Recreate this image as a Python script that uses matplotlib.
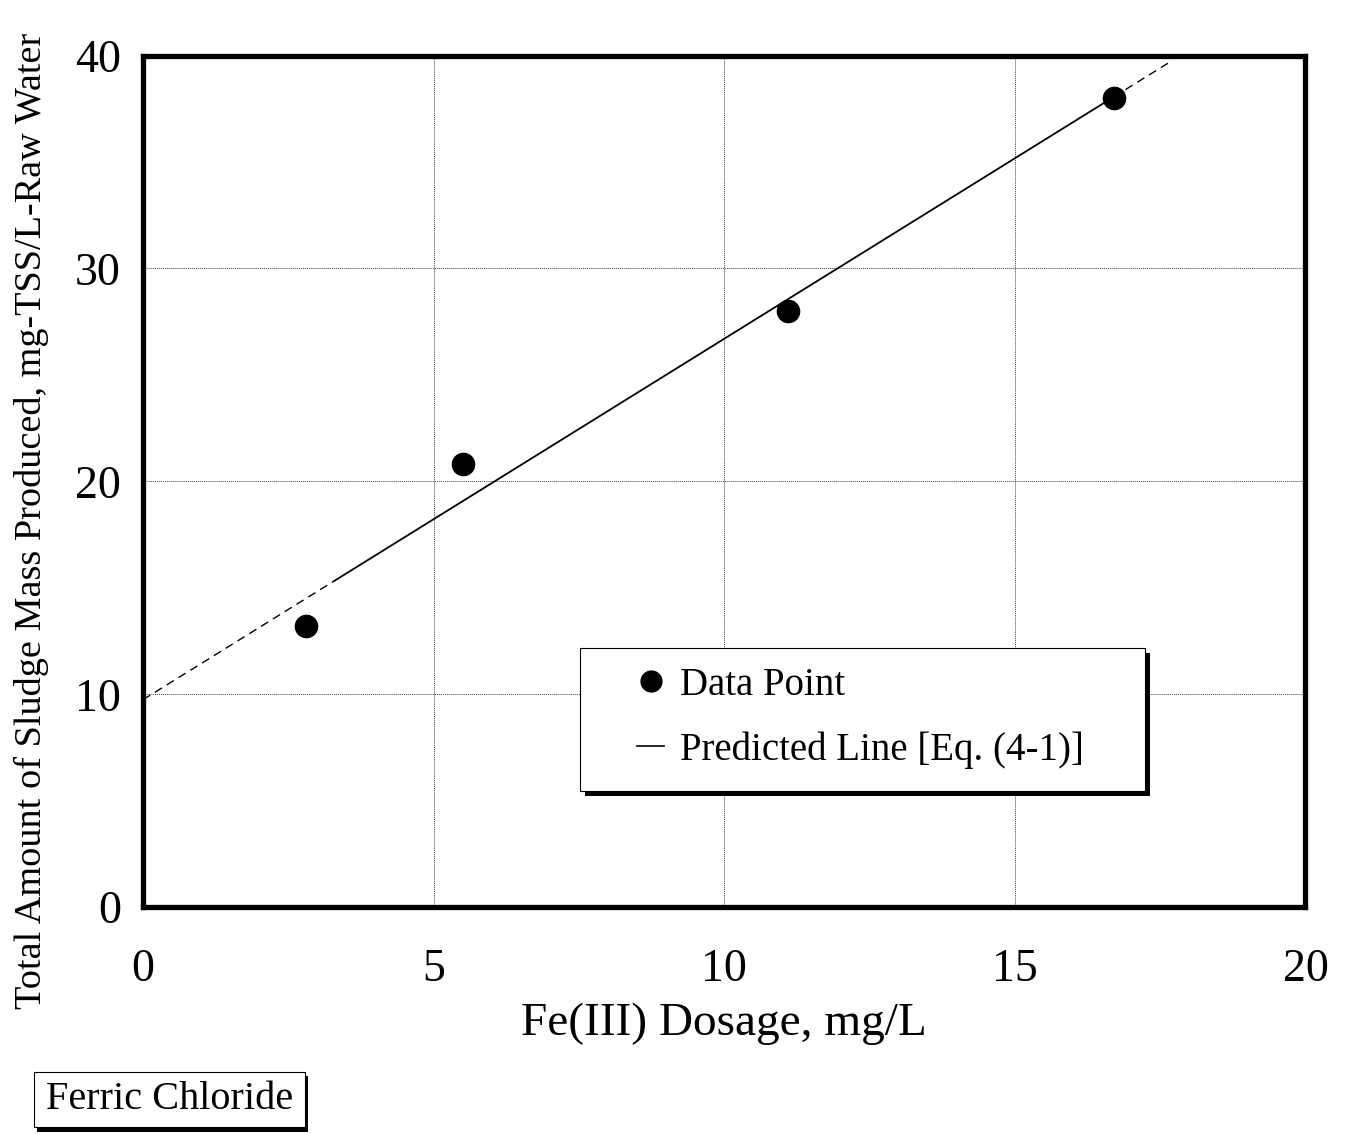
import matplotlib
matplotlib.use("Agg")
import matplotlib.pyplot as plt
from matplotlib.lines import Line2D
from matplotlib.patches import Rectangle
import numpy as np

# data
dosage = [2.8, 5.5, 11.1, 16.7]          # Fe(III) dosage, mg/L
sludge = [13.2, 20.8, 28.0, 38.0]        # mg-TSS/L-raw water
fit_intercept = 9.75
fit_slope = 1.695
solid_range = [3.3, 16.7]
dash_low = [0.0, 3.3]
dash_high = [16.7, 17.7]

x_ticks = [0, 5, 10, 15, 20]
y_ticks = [0, 10, 20, 30, 40]

plt.rcParams['font.family'] = ['Liberation Serif', 'DejaVu Serif']

fig = plt.figure(figsize=(13.5, 11.34), dpi=100)
ax = fig.add_axes([0.106, 0.200, 0.861, 0.751])


def predicted(xs):
    xs = np.array(xs)
    return fit_intercept + fit_slope * xs


ax.plot(solid_range, predicted(solid_range), color='black', lw=1.3, zorder=3)
ax.plot(dash_low, predicted(dash_low), color='black', lw=1.0, ls=(0, (6, 4)), zorder=3)
ax.plot(dash_high, predicted(dash_high), color='black', lw=1.0, ls=(0, (6, 4)), zorder=3)
ax.plot(dosage, sludge, 'o', color='black', ms=16, zorder=4)

ax.set_xlim(0, 20)
ax.set_ylim(0, 40)
ax.set_xticks(x_ticks)
ax.set_yticks(y_ticks)
ax.tick_params(length=0, labelsize=33)
ax.tick_params(axis='x', pad=30)
ax.tick_params(axis='y', pad=16)
ax.grid(True, color='#444444', lw=0.7, ls=(0, (1, 1)))
ax.set_axisbelow(True)
for sp in ax.spines.values():
    sp.set_linewidth(3.8)

ax.set_xlabel('Fe(III) Dosage, mg/L', fontsize=34, labelpad=8)
ax.set_ylabel('Total Amount of Sludge Mass Produced, mg-TSS/L-Raw Water',
              fontsize=27.5)
ax.yaxis.set_label_coords(-0.081, 0.454)

# legend box with solid shadow
lx0, ly0, lw_, lh_ = 0.376, 0.137, 0.486, 0.167
ax.add_patch(Rectangle((lx0 + 0.004, ly0 - 0.006), lw_, lh_, transform=ax.transAxes,
                       facecolor='black', edgecolor='none', zorder=5))
ax.add_patch(Rectangle((lx0, ly0), lw_, lh_, transform=ax.transAxes,
                       facecolor='white', edgecolor='black', lw=0.8, zorder=6))
handles = [Line2D([], [], marker='o', color='black', ls='none', ms=15),
           Line2D([], [], color='black', lw=1.2)]
leg = ax.legend(handles, ['Data Point', 'Predicted Line [Eq. (4-1)]'],
                loc='center', bbox_to_anchor=(lx0 + lw_ / 2 - 0.002, ly0 + lh_ / 2 + 0.002),
                frameon=False, fontsize=28, handlelength=0.7, handletextpad=0.4,
                labelspacing=0.7)
leg.set_zorder(7)

# "Ferric Chloride" tag
fig.patches.append(Rectangle((0.0275, 0.002), 0.201, 0.049, transform=fig.transFigure,
                             facecolor='black', edgecolor='none'))
fig.patches.append(Rectangle((0.025, 0.006), 0.201, 0.049, transform=fig.transFigure,
                             facecolor='white', edgecolor='black', lw=0.8))
fig.text(0.1255, 0.030, 'Ferric Chloride', fontsize=29, ha='center', va='center')

fig.savefig('out.png', dpi=100)
